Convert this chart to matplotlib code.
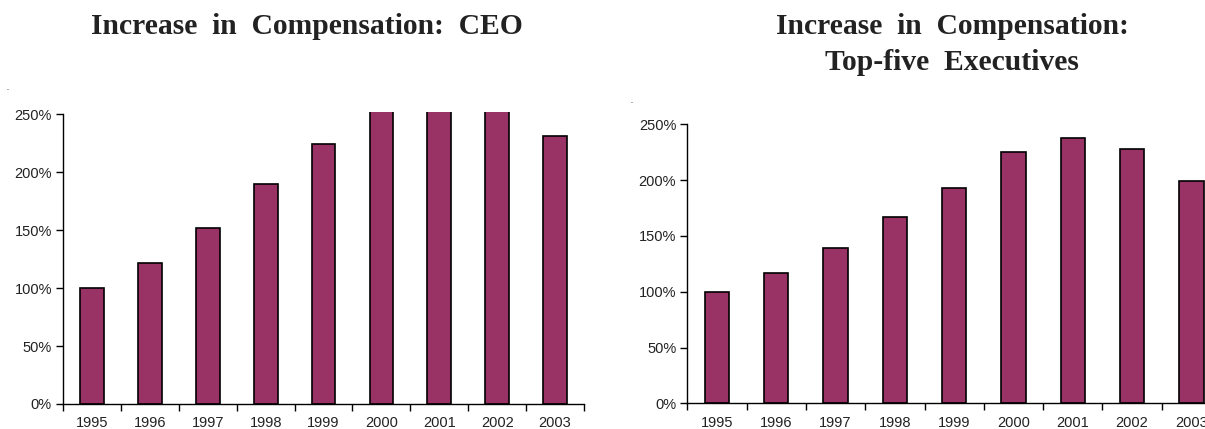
import matplotlib
matplotlib.use("Agg")
import matplotlib.pyplot as plt
import numpy as np

years = ["1995", "1996", "1997", "1998", "1999", "2000", "2001", "2002", "2003"]
ceo = [100, 122, 152, 190, 224, 270, 290, 275, 231]
top5 = [100, 117, 139, 167, 193, 225, 238, 228, 199]

bar_color = "#993366"
yticks = [0, 50, 100, 150, 200, 250]

fig = plt.figure(figsize=(12.05, 4.29), dpi=100)
ax1 = fig.add_axes([0.0523, 0.0583, 0.4324, 0.6807])
ax2 = fig.add_axes([0.5704, 0.0599, 0.4429, 0.6503])


def style_axis(ax, vals, ytop):
    x = np.arange(len(years))
    ax.bar(x, vals, width=0.41, color=bar_color, edgecolor="black", linewidth=1.2)
    ax.set_xlim(-0.5, len(years) - 0.5)
    ax.set_ylim(0, ytop)
    ax.set_yticks(yticks)
    ax.set_yticklabels([f"{v}%" for v in yticks], fontsize=10.5,
                       family="Liberation Sans", color="#222222")
    ax.set_xticks(x)
    ax.set_xticklabels(years, fontsize=10.5, family="Liberation Sans", color="#222222")
    ax.set_xticks(np.arange(len(years) + 1) - 0.5, minor=True)
    ax.tick_params(axis="x", which="major", length=0, pad=9)
    ax.tick_params(axis="x", which="minor", length=5, direction="out", width=1)
    ax.tick_params(axis="y", length=5, direction="out", width=1, pad=3)
    for s in ["top", "right"]:
        ax.spines[s].set_visible(False)
    for s in ["left", "bottom"]:
        ax.spines[s].set_linewidth(1)
    ax.spines["left"].set_bounds(0, 250)


style_axis(ax1, ceo, 252)
style_axis(ax2, top5, 250)

title_kw = dict(family="Liberation Serif", fontweight="bold", fontsize=21.3,
                ha="center", va="center", color="#222222")
fig.text(307 / 1205, 1 - 27 / 429, "Increase  in  Compensation:  CEO", **title_kw)
fig.text(952 / 1205, 1 - 27 / 429, "Increase  in  Compensation:", **title_kw)
fig.text(952 / 1205, 1 - 62 / 429, "Top-five  Executives", **title_kw)

# stray marks in the original
fig.text(8 / 1205, 1 - 90 / 429, "-", fontsize=4, ha="center", va="center")
fig.text(632 / 1205, 1 - 103 / 429, "-", fontsize=4, ha="center", va="center")

fig.savefig("out.png", dpi=100)
